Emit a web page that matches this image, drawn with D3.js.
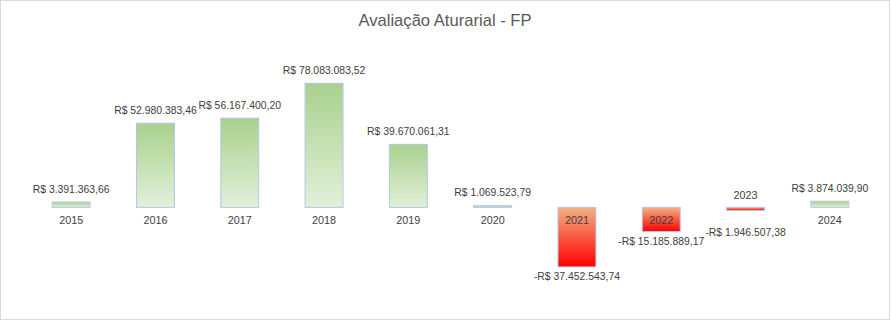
<!DOCTYPE html>
<html>
<head>
<meta charset="utf-8">
<script src="https://cdn.jsdelivr.net/npm/d3@7"></script>
<style>
  body { margin: 0; background: #fff; }
  text { font-family: "Liberation Sans", Arial, sans-serif; fill: #404040; }
</style>
</head>
<body>
<script>
var years = ["2015", "2016", "2017", "2018", "2019", "2020", "2021", "2022", "2023", "2024"];
var values = [3391363.66, 52980383.46, 56167400.20, 78083083.52, 39670061.31,
              1069523.79, -37452543.74, -15185889.17, -1946507.38, 3874039.90];
var valueLabels = ["R$ 3.391.363,66", "R$ 52.980.383,46", "R$ 56.167.400,20", "R$ 78.083.083,52",
                   "R$ 39.670.061,31", "R$ 1.069.523,79", "-R$ 37.452.543,74", "-R$ 15.185.889,17",
                   "-R$ 1.946.507,38", "R$ 3.874.039,90"];
var title = "Avaliação Aturarial - FP";

var width = 891,
    height = 321;

var svg = d3.select("body").append("svg")
    .attr("width", width)
    .attr("height", height)
    .style("display", "block");

// chart border
svg.append("rect")
    .attr("x", 0.5).attr("y", 0.5)
    .attr("width", 889).attr("height", 319)
    .attr("fill", "#fff")
    .attr("stroke", "#d9d9d9");

var defs = svg.append("defs");
var gPos = defs.append("linearGradient").attr("id", "gpos")
    .attr("x1", 0).attr("y1", 0).attr("x2", 0).attr("y2", 1);
gPos.append("stop").attr("offset", "0%").attr("stop-color", "#a9d18e");
gPos.append("stop").attr("offset", "100%").attr("stop-color", "#e2f0d9");
var gNeg = defs.append("linearGradient").attr("id", "gneg")
    .attr("x1", 0).attr("y1", 0).attr("x2", 0).attr("y2", 1);
gNeg.append("stop").attr("offset", "0%").attr("stop-color", "#f4b183");
gNeg.append("stop").attr("offset", "100%").attr("stop-color", "#ff0000");

var data = years.map(function(y, i) {
    return { year: y, value: values[i], label: valueLabels[i] };
});

var x = d3.scaleBand()
    .domain(years)
    .range([29, 872])
    .paddingInner(0.55)
    .paddingOuter(0.275);

var y = d3.scaleLinear()
    .domain([d3.min(values), d3.max(values)])
    .range([266.9, 83.3]);

var zero = y(0);

svg.append("text")
    .attr("x", 445)
    .attr("y", 22)
    .attr("text-anchor", "middle")
    .attr("dominant-baseline", "middle")
    .style("font-size", "16.6px")
    .style("fill", "#595959")
    .text(title);

svg.selectAll(".bar")
    .data(data)
    .enter().append("rect")
    .attr("class", "bar")
    .attr("x", function(d) { return x(d.year); })
    .attr("width", x.bandwidth())
    .attr("y", function(d) { return Math.min(y(d.value), zero); })
    .attr("height", function(d) { return Math.abs(y(d.value) - zero); })
    .attr("fill", function(d) { return d.value < 0 ? "url(#gneg)" : "url(#gpos)"; })
    .attr("stroke", "#b4c7e7")
    .attr("stroke-width", 1);

// category labels
svg.selectAll(".cat")
    .data(data)
    .enter().append("text")
    .attr("class", "cat")
    .attr("x", function(d) { return x(d.year) + x.bandwidth() / 2; })
    .attr("y", function(d) {
        var h = zero - y(d.value);
        return (d.value < 0 && h > -5) ? zero - 11.5 : zero + 13.5;
    })
    .attr("text-anchor", "middle")
    .attr("dominant-baseline", "middle")
    .style("font-size", "10.8px")
    .text(function(d) { return d.year; });

// value labels
svg.selectAll(".val")
    .data(data)
    .enter().append("text")
    .attr("class", "val")
    .attr("x", function(d) { return x(d.year) + x.bandwidth() / 2; })
    .attr("y", function(d) {
        if (d.value >= 0) return y(d.value) - 12;
        return Math.max(y(d.value) + 10.5, zero + 25.5);
    })
    .attr("text-anchor", "middle")
    .attr("dominant-baseline", "middle")
    .style("font-size", "10.4px")
    .text(function(d) { return d.label; });
</script>
</body>
</html>
